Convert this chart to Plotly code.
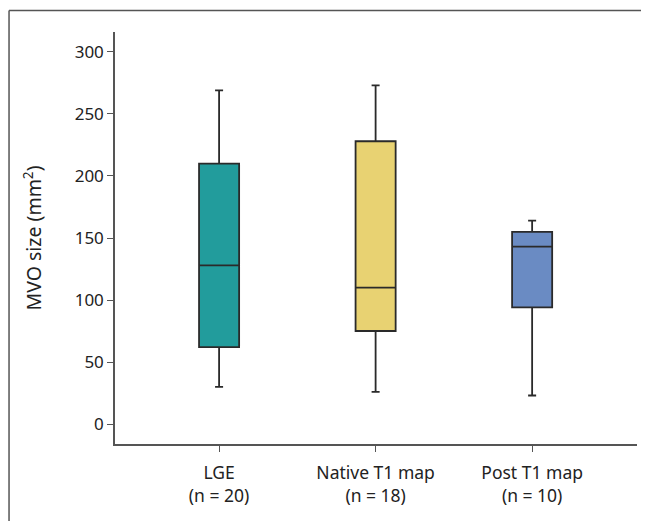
import plotly.graph_objects as go

categories = ["LGE<br>(n = 20)", "Native T1 map<br>(n = 18)", "Post T1 map<br>(n = 10)"]
lower_whisker = [30, 26, 23]
q1_values = [62, 75, 94]
median_values = [128, 110, 143]
q3_values = [210, 228, 155]
upper_whisker = [269, 273, 164]
box_colors = ["#229c9c", "#e8d272", "#6a8bc3"]

y_ticks = [0, 50, 100, 150, 200, 250, 300]

fig = go.Figure()
for i, cat in enumerate(categories):
    fig.add_trace(go.Box(
        x=[cat],
        q1=[q1_values[i]],
        median=[median_values[i]],
        q3=[q3_values[i]],
        lowerfence=[lower_whisker[i]],
        upperfence=[upper_whisker[i]],
        fillcolor=box_colors[i],
        line=dict(color="#2a2a2a", width=1.8),
        width=0.256,
        whiskerwidth=0.2,
        boxpoints=False,
        showlegend=False,
        hoverinfo="skip",
    ))

font_family = "Noto Sans, Open Sans, sans-serif"

fig.update_layout(
    width=649,
    height=521,
    margin=dict(l=107, r=20, t=24, b=85),
    paper_bgcolor="white",
    plot_bgcolor="white",
    font=dict(family=font_family, size=17, color="#222"),
    xaxis=dict(
        type="category",
        categoryorder="array",
        categoryarray=categories,
        range=[-0.665, 2.67],
        showline=True,
        linecolor="#555",
        linewidth=1.5,
        ticks="outside",
        ticklen=6,
        tickcolor="#555",
        showgrid=False,
        zeroline=False,
        tickfont=dict(size=17.5, color="#222"),
        ticklabelstandoff=6,
    ),
    yaxis=dict(
        range=[-16.1, 316.1],
        tickvals=y_ticks,
        ticktext=[str(v) for v in y_ticks],
        showline=True,
        linecolor="#555",
        linewidth=1.5,
        ticks="outside",
        ticklen=6,
        tickcolor="#555",
        showgrid=False,
        zeroline=False,
        tickfont=dict(size=17, color="#222"),
        title=dict(text="MVO size (mm<sup>2</sup>)", font=dict(size=19.5, color="#222"), standoff=28),
    ),
    shapes=[
        dict(type="line", xref="paper", yref="paper",
             x0=-0.203, y0=-0.3, x1=-0.203, y1=1.052,
             line=dict(color="#555", width=1.5)),
        dict(type="line", xref="paper", yref="paper",
             x0=-0.203, y0=1.052, x1=1.1, y1=1.052,
             line=dict(color="#555", width=1.5)),
    ],
)

fig.write_html("out.html")
